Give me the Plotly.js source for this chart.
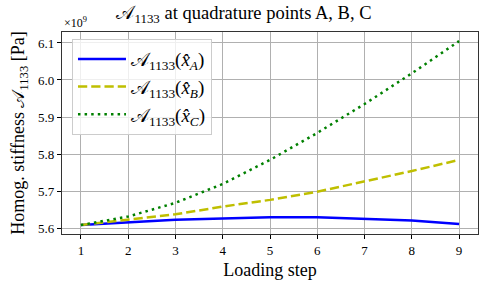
<!DOCTYPE html>
<html><head><meta charset="utf-8">
<script src="https://cdn.plot.ly/plotly-3.0.1.min.js"></script>
<style>html,body{margin:0;padding:0;background:#fff}</style>
</head><body>
<div id="chart" style="width:488px;height:289px"></div>
<script>
const steps = [1, 2, 3, 4, 5, 6, 7, 8, 9];
const seriesA = [5.608, 5.616, 5.622, 5.626, 5.629, 5.629, 5.625, 5.620, 5.611];
const seriesB = [5.608, 5.623, 5.637, 5.658, 5.676, 5.698, 5.725, 5.754, 5.784];
const seriesC = [5.608, 5.631, 5.668, 5.719, 5.784, 5.857, 5.935, 6.018, 6.105];
const names = ["𝒜<sub>1133</sub>(<i>x̂</i><sub><i>A</i></sub>)", "𝒜<sub>1133</sub>(<i>x̂</i><sub><i>B</i></sub>)", "𝒜<sub>1133</sub>(<i>x̂</i><sub><i>C</i></sub>)"];
const yTicks = [5.6, 5.7, 5.8, 5.9, 6.0, 6.1];
const xTicks = [1, 2, 3, 4, 5, 6, 7, 8, 9];

const font = "Liberation Serif";
const traces = [
  {x: steps, y: seriesA, name: names[0], legendgroup: "a", mode: "lines", line: {color: "#0000ff", width: 2.5}},
  {x: steps, y: seriesB, name: names[1], legendgroup: "b", mode: "lines", line: {color: "#bfbf00", width: 2.5, dash: "9.25px,4px"}},
  {x: steps, y: seriesC, name: names[2], legendgroup: "c", mode: "lines", line: {color: "#008000", width: 2.5, dash: "2.5px,4.1px"}}
];
const axisCommon = {
  showgrid: true, gridcolor: "#b0b0b0", gridwidth: 1,
  showline: true, linecolor: "#333", linewidth: 1.2, mirror: true,
  ticks: "outside", ticklen: 4, tickcolor: "#000", tickwidth: 1,
  tickfont: {family: font, size: 13, color: "#000"}, zeroline: false
};
const layout = {
  width: 488, height: 289,
  margin: {l: 62, r: 10, t: 32, b: 55},
  paper_bgcolor: "#fff", plot_bgcolor: "#fff",
  font: {family: font, color: "#000"},
  title: {text: "𝒜<sub>1133</sub> at quadrature points A, B, C", font: {family: font, size: 18.5}, x: 0.5, xanchor: "center", y: 0.955, yanchor: "middle"},
  xaxis: Object.assign({}, axisCommon, {range: [0.6, 9.4], tickvals: xTicks,
    title: {text: "Loading step", font: {family: font, size: 18}, standoff: 6}}),
  yaxis: Object.assign({}, axisCommon, {range: [5.5838, 6.1297], tickvals: yTicks, tickformat: ".1f",
    title: {text: "Homog. stiffness 𝒜<sub>1133</sub> [Pa]", font: {family: font, size: 18}, standoff: 8}}),
  legend: {x: 0.024, y: 0.965, xanchor: "left", yanchor: "top", bgcolor: "rgba(255,255,255,0.8)",
    bordercolor: "#ccc", borderwidth: 1, font: {family: font, size: 19}, traceorder: "grouped", tracegroupgap: 0, itemwidth: 48},
  annotations: [{text: "×10<sup>9</sup>", xref: "paper", yref: "paper", x: 0, y: 1, xanchor: "left", yanchor: "bottom",
    showarrow: false, font: {family: font, size: 12}, yshift: 0}],
  showlegend: true
};
Plotly.newPlot("chart", traces, layout, {displayModeBar: false, staticPlot: true});
</script>
</body></html>
